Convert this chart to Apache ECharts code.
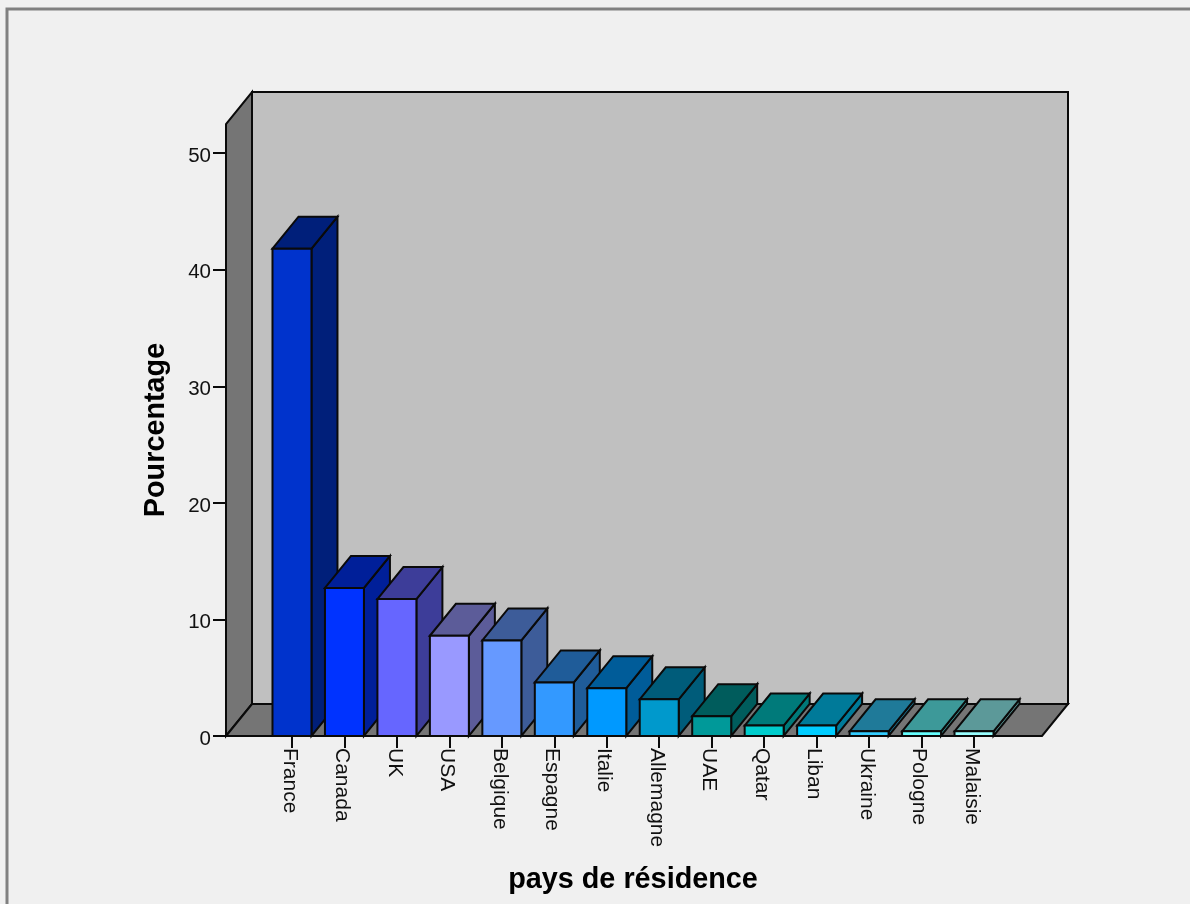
<!DOCTYPE html>
<html>
<head>
<meta charset="utf-8">
<title>pays de résidence</title>
<style>
  html, body { margin: 0; padding: 0; background: #f0f0f0; overflow: hidden; }
  #chart { width: 1190px; height: 904px; }
</style>
<script src="https://cdn.jsdelivr.net/npm/echarts@6/dist/echarts.min.js"></script>
</head>
<body>
<div id="chart"></div>
<script>
// Share of respondents by country of residence
const countries = ['France', 'Canada', 'UK', 'USA', 'Belgique', 'Espagne', 'Italie', 'Allemagne', 'UAE', 'Qatar', 'Liban', 'Ukraine', 'Pologne', 'Malaisie'];
const percentages = [41.8, 12.7, 11.75, 8.6, 8.2, 4.6, 4.1, 3.15, 1.7, 0.9, 0.9, 0.4, 0.4, 0.4];
const frontColors = ['#0033CC', '#0033FF', '#6666FF', '#9999FF', '#6699FF', '#3399FF', '#0099FF', '#0099CC', '#009999', '#00CCCC', '#00CCFF', '#33CCFF', '#66FFFF', '#99FFFF'];
const depthColors = ['#001F7A', '#001F99', '#3D3D99', '#5C5C99', '#3D5C99', '#1F5C99', '#005C99', '#005C7A', '#005C5C', '#007A7A', '#007A99', '#1F7A99', '#3D9999', '#5C9999'];
const yTicks = [0, 10, 20, 30, 40, 50];

// Oblique projection shared by the bars and the chart box
const DEPTH_X = 26;
const DEPTH_Y = 32;
const BOX_LEFT_PAD = 39.75;
const BOX_RIGHT_PAD = 41.75;
const BAR_RATIO = 0.743;
const EDGE = { stroke: '#0a0a0a', lineWidth: 2, lineJoin: 'miter' };

function poly(points, fill) {
  return { type: 'polygon', shape: { points }, style: Object.assign({ fill }, EDGE) };
}

function renderBox(params) {
  const c = params.coordSys;
  const l = c.x - BOX_LEFT_PAD, r = c.x + c.width + BOX_RIGHT_PAD;
  const t = c.y, b = c.y + c.height;
  return {
    type: 'group',
    children: [
      poly([[l + DEPTH_X, t - DEPTH_Y], [r + DEPTH_X, t - DEPTH_Y], [r + DEPTH_X, b - DEPTH_Y], [l + DEPTH_X, b - DEPTH_Y]], '#C0C0C0'),
      poly([[l, b], [l, t], [l + DEPTH_X, t - DEPTH_Y], [l + DEPTH_X, b - DEPTH_Y]], '#757575'),
      poly([[l, b], [l + DEPTH_X, b - DEPTH_Y], [r + DEPTH_X, b - DEPTH_Y], [r, b]], '#757575')
    ]
  };
}

function renderBar(params, api) {
  const i = api.value(0);
  const foot = api.coord([i, 0]);
  const head = api.coord([i, api.value(1)]);
  const half = api.size([1, 0])[0] * BAR_RATIO / 2;
  const l = foot[0] - half, r = foot[0] + half;
  const b = foot[1], t = head[1];
  return {
    type: 'group',
    children: [
      poly([[r, t], [r + DEPTH_X, t - DEPTH_Y], [r + DEPTH_X, b - DEPTH_Y], [r, b]], depthColors[i]),
      poly([[l, t], [l + DEPTH_X, t - DEPTH_Y], [r + DEPTH_X, t - DEPTH_Y], [r, t]], depthColors[i]),
      poly([[l, t], [r, t], [r, b], [l, b]], frontColors[i])
    ]
  };
}

const chart = echarts.init(document.getElementById('chart'), null, { renderer: 'canvas' });
const labelFont = 'Liberation Sans, Arial, sans-serif';

chart.setOption({
  animation: false,
  backgroundColor: '#f0f0f0',
  graphic: [{
    type: 'polyline',
    silent: true,
    shape: { points: [[7, 920], [7, 9], [1200, 9]] },
    style: { stroke: '#808080', lineWidth: 3, fill: null }
  }],
  grid: { left: 265.75, width: 734.5, top: 124, height: 612 },
  xAxis: {
    type: 'category',
    data: countries,
    name: 'pays de résidence',
    nameLocation: 'middle',
    nameGap: 130,
    nameTextStyle: { fontFamily: labelFont, fontWeight: 'bold', fontSize: 28.8, color: '#000' },
    axisLine: { show: false },
    axisTick: { show: true, alignWithLabel: true, length: 12, lineStyle: { color: '#0a0a0a', width: 2 } },
    axisLabel: { rotate: -90, interval: 0, margin: 12, verticalAlign: 'top', lineHeight: 5, fontFamily: labelFont, fontSize: 21, color: '#111' },
    splitLine: { show: false }
  },
  yAxis: {
    type: 'value',
    min: 0,
    max: 52.5,
    interval: 10,
    offset: BOX_LEFT_PAD,
    name: 'Pourcentage',
    nameLocation: 'middle',
    nameGap: 55,
    nameTextStyle: { fontFamily: labelFont, fontWeight: 'bold', fontSize: 28.8, color: '#000' },
    axisLine: { show: false },
    axisTick: { show: true, length: 13, customValues: yTicks, lineStyle: { color: '#0a0a0a', width: 2 } },
    axisLabel: { margin: 15, customValues: yTicks, verticalAlign: 'top', lineHeight: 6, fontFamily: labelFont, fontSize: 20.5, color: '#111' },
    splitLine: { show: false }
  },
  series: [
    {
      type: 'custom',
      clip: false,
      silent: true,
      renderItem: renderBox,
      data: [[0, 0]],
      encode: { x: 0, y: 1 },
      z: 1
    },
    {
      type: 'custom',
      clip: false,
      renderItem: renderBar,
      data: countries.map((name, i) => [i, percentages[i]]),
      encode: { x: 0, y: 1 },
      z: 2
    }
  ]
});
</script>
</body>
</html>
